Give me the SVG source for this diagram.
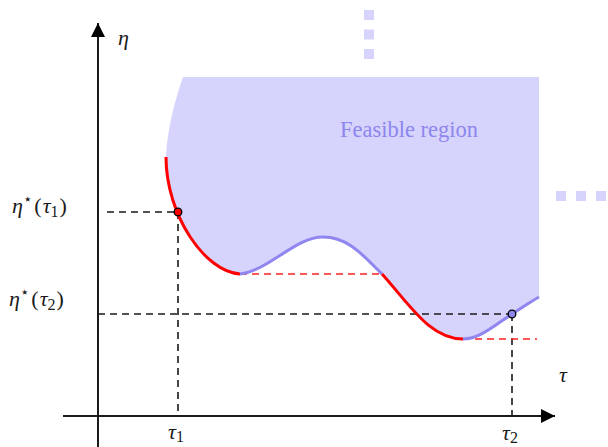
<svg xmlns="http://www.w3.org/2000/svg" width="608" height="447" viewBox="0 0 608 447">
<style>
.ax{stroke:#1a1a1a;stroke-width:2;fill:none}
.dk{stroke:#1a1a1a;stroke-width:1.6;fill:none;stroke-dasharray:7,5}
.dr{stroke:#ff2020;stroke-width:1.6;fill:none;stroke-dasharray:7,5}
.red{stroke:#ff0000;stroke-width:3;fill:none}
.pur{stroke:#8f86f0;stroke-width:3;fill:none}
.sq{fill:#d6d3fc}
.m{font-family:'Liberation Serif',serif;font-size:22px;fill:#1a1a1a}
.i{font-style:italic}
</style>
<defs>
<marker id="ah" viewBox="0 0 14 14" refX="14" refY="7" markerWidth="14" markerHeight="14" markerUnits="userSpaceOnUse" orient="auto">
<path d="M0,0 L14,7 L0,14 Z" fill="#000"/>
</marker>
</defs>
<g id="region">
<path fill="#d6d3fc" d="M183,77 C175,100 167,130 166,157 C166,215 205,272 240,274 C270,270 295,237 323,237 C350,237 365,258 382,274 C410,305 430,339 463,339 C480,339 495,325 512,314 C522,308 530,302 539,297 L539,77 Z"/>
<text x="409" y="137" font-family="'Liberation Serif',serif" font-size="22.5" fill="#8d86ee" text-anchor="middle">Feasible region</text>
</g>
<g id="dots">
<rect class="sq" x="364" y="10" width="10" height="10"/>
<rect class="sq" x="364" y="29.5" width="10" height="10"/>
<rect class="sq" x="364" y="49" width="10" height="10"/>
<rect class="sq" x="556" y="191" width="10" height="10"/>
<rect class="sq" x="576" y="191" width="10" height="10"/>
<rect class="sq" x="596" y="191" width="10" height="10"/>
</g>
<g id="connectors">
<line class="ax" x1="98" y1="447" x2="98" y2="23" marker-end="url(#ah)"/>
<line class="ax" x1="63" y1="416" x2="555" y2="416" marker-end="url(#ah)"/>
<path class="dk" d="M107,212 H178 M178,212 V416 M98,314 H512 M512,314 V416"/>
<path class="dr" d="M240,274 H382 M463,339 H537"/>
<path class="red" d="M166,157 C166,215 205,272 240,274"/>
<path class="pur" d="M240,274 C270,270 295,237 323,237 C350,237 365,258 382,274"/>
<path class="red" d="M382,274 C410,305 430,339 463,339"/>
<path class="pur" d="M463,339 C480,339 495,325 512,314 C522,308 530,302 539,297"/>
</g>
<g id="p1"><circle cx="178" cy="212" r="3.8" fill="#ff0000" stroke="#000" stroke-width="1.3"/></g>
<g id="p2"><circle cx="512" cy="314" r="3.8" fill="#8f86f0" stroke="#000" stroke-width="1.3"/></g>
<g id="labels">
<text class="m i" x="118" y="45">η</text>
<text class="m" x="12" y="213"><tspan class="i">η</tspan><tspan font-family="'DejaVu Sans',sans-serif" font-size="15" dy="-9">⋆</tspan><tspan dy="9" dx="2">(</tspan><tspan class="i" dx="1">τ</tspan><tspan font-size="16" dy="4">1</tspan><tspan dy="-4" dx="1">)</tspan></text>
<text class="m" x="9" y="306"><tspan class="i">η</tspan><tspan font-family="'DejaVu Sans',sans-serif" font-size="15" dy="-9">⋆</tspan><tspan dy="9" dx="2">(</tspan><tspan class="i" dx="1">τ</tspan><tspan font-size="16" dy="4">2</tspan><tspan dy="-4" dx="1">)</tspan></text>
<text class="m i" x="559" y="382">τ</text>
<text class="m" x="168" y="439"><tspan class="i">τ</tspan><tspan font-size="16" dy="3">1</tspan></text>
<text class="m" x="502" y="440"><tspan class="i">τ</tspan><tspan font-size="16" dy="3">2</tspan></text>
</g>
</svg>
